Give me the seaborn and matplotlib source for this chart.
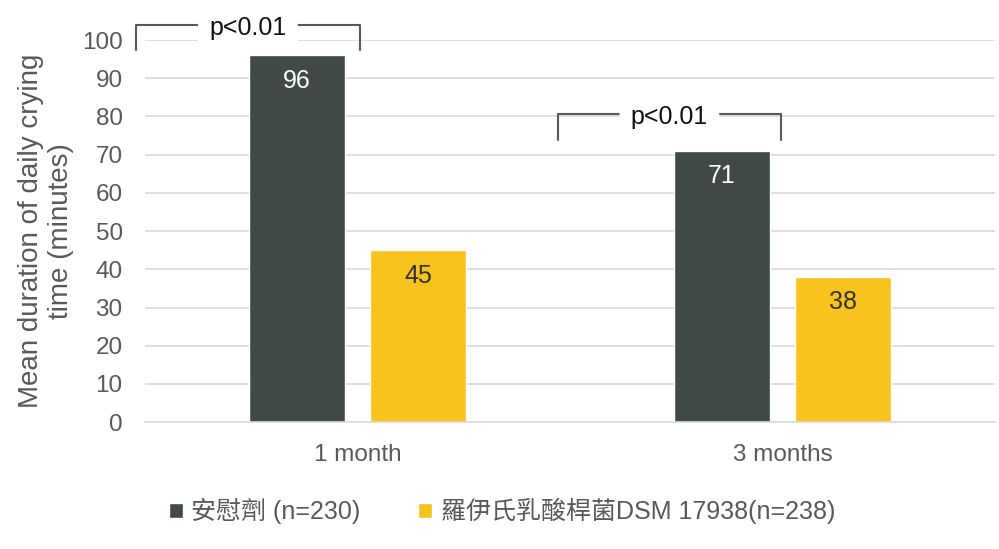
import pandas as pd
import matplotlib.pyplot as plt
import seaborn as sns

sns.set_style('white')
plt.rcParams['font.family'] = ['Liberation Sans', 'Noto Sans CJK TC', 'DejaVu Sans']

# 데이터
periods = ['1 month', '3 months']
groups = ['安慰劑 (n=230)', '羅伊氏乳酸桿菌DSM 17938(n=238)']
placebo = [96, 71]
reuteri = [45, 38]
p_labels = ['p<0.01', 'p<0.01']

df = pd.DataFrame({
    'period': periods * 2,
    'group': [groups[0]] * 2 + [groups[1]] * 2,
    'minutes': placebo + reuteri,
})

colors = ['#424a48', '#f7c31c']
grey = '#595959'

fig = plt.figure(figsize=(9.99, 5.49), dpi=100)
ax = fig.add_axes([0.145, 0.231, 0.851, 0.696])

sns.barplot(data=df, x='period', y='minutes', hue='group', palette=colors,
            width=0.57, gap=0.207, ax=ax, saturation=1)

ax.set_ylim(0, 100)
ax.set_xlim(-0.5, 1.5)
ax.set_yticks(range(0, 101, 10))
ax.yaxis.grid(True, color='#d9d9d9', linewidth=1.2)
ax.set_axisbelow(True)
for s in ['top', 'right', 'left']:
    ax.spines[s].set_visible(False)
ax.spines['bottom'].set_color('#d9d9d9')
ax.spines['bottom'].set_linewidth(1.2)
ax.tick_params(axis='both', length=0, labelsize=17.5, labelcolor=grey)
ax.tick_params(axis='x', pad=16)
ax.tick_params(axis='y', pad=16)
ax.set_xlabel('')
ax.set_ylabel('Mean duration of daily crying\ntime (minutes)', fontsize=20,
              color=grey, labelpad=6, linespacing=1.2)

# 막대 값 라벨
for i, cont in enumerate(ax.containers):
    ax.bar_label(cont, labels=[f'{v:.0f}' for v in cont.datavalues], label_type='edge',
                 padding=-27, fontsize=18, color='white' if i == 0 else '#333333')

# 유의성 괄호
brackets = [(-0.521, 0.006, 103.9, 97.4), (0.472, 0.996, 80.6, 73.8)]
for (x0, x1, top, bot), lab in zip(brackets, p_labels):
    ax.plot([x0, x0, x1, x1], [bot, top, top, bot], color=grey, lw=1.5,
            clip_on=False)
    ax.text((x0 + x1) / 2, top - 0.8, lab, ha='center', va='center', fontsize=18,
            color='#111111', clip_on=False,
            bbox=dict(boxstyle='round,pad=0.45', fc='white', ec='none'))

leg = ax.legend(loc='upper center', bbox_to_anchor=(0.42, -0.14), ncol=2,
                frameon=False, fontsize=18, handlelength=0.55, handleheight=0.55,
                handletextpad=0.35, columnspacing=2.3)
for t in leg.get_texts():
    t.set_color(grey)

fig.savefig('out.png', dpi=100)
